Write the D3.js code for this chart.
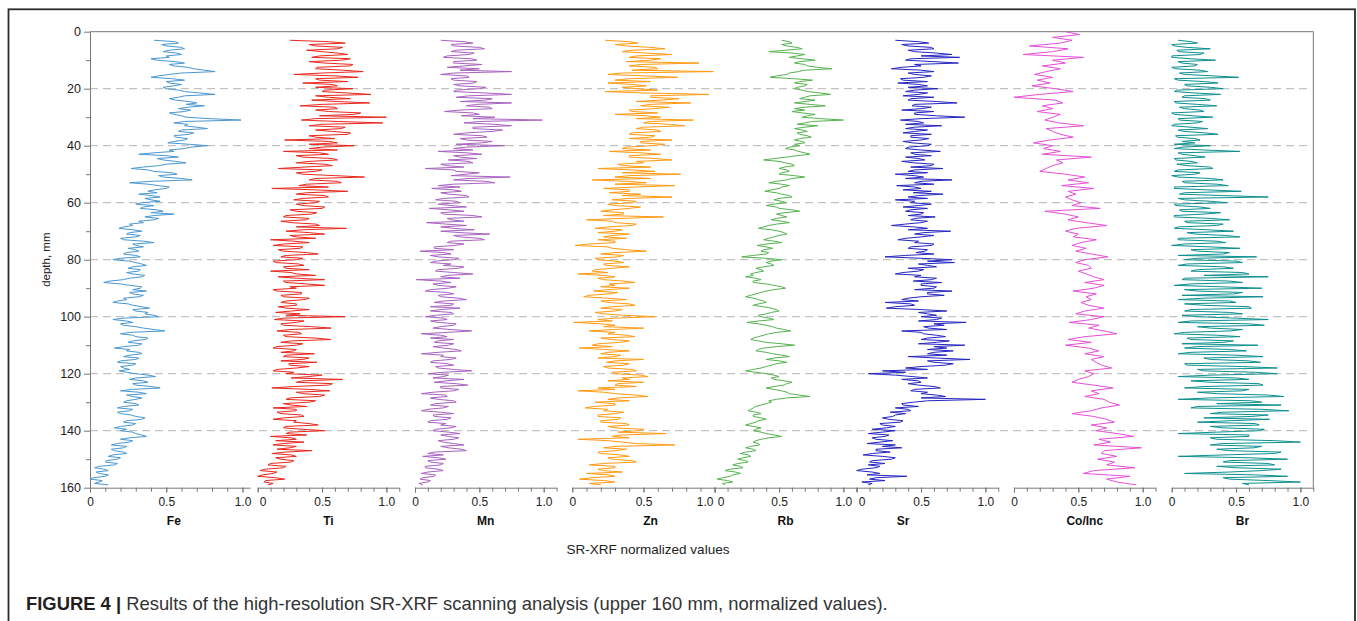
<!DOCTYPE html>
<html><head><meta charset="utf-8">
<script src="https://cdn.jsdelivr.net/npm/d3@7"></script>
<style>
body{margin:0;background:#fff;}
svg{display:block;font-family:"Liberation Sans",Arial,Helvetica,sans-serif;}
</style>
</head><body>
<svg id="chart" width="1357" height="621"></svg>
<script>
// ---------------- DATA ----------------
const elements = ["Fe","Ti","Mn","Zn","Rb","Sr","Co/Inc","Br"];
const colors = ["#4a97d1","#e8281e","#a862bf","#ff9a12","#55b24f","#2525c0","#e64fd6","#0e8f8f"];
const startDepth = [3,3,3,3,3,3,0,3];        // first sample depth (mm)
const depthStep  = [0.5,0.5,0.5,0.5,0.5,0.5,1,0.5]; // sample spacing (mm)
const depthTicks = [0,20,40,60,80,100,120,140,160];
const valueTicks = [0,0.5,1.0];

const fe = [0.42,0.56,0.58,0.47,0.50,0.60,0.62,0.52,0.48,0.57,0.60,0.50,0.52,0.40,0.44,0.56,0.62,0.52,0.55,0.64,0.68,0.75,0.82,0.60,0.52,0.45,0.40,0.54,0.62,0.50,0.52,0.60,0.55,0.48,0.50,0.58,0.62,0.72,0.82,0.62,0.58,0.52,0.56,0.65,0.70,0.63,0.75,0.64,0.58,0.66,0.62,0.52,0.55,0.60,0.63,0.78,0.99,0.62,0.55,0.64,0.62,0.70,0.77,0.60,0.58,0.68,0.65,0.55,0.56,0.64,0.62,0.55,0.51,0.65,0.77,0.66,0.62,0.52,0.55,0.42,0.32,0.50,0.58,0.44,0.48,0.56,0.63,0.50,0.45,0.35,0.27,0.38,0.42,0.54,0.57,0.45,0.48,0.60,0.67,0.40,0.26,0.38,0.45,0.52,0.50,0.42,0.38,0.44,0.32,0.40,0.46,0.36,0.40,0.46,0.34,0.30,0.42,0.35,0.33,0.44,0.48,0.40,0.55,0.42,0.36,0.45,0.42,0.32,0.35,0.26,0.28,0.22,0.19,0.28,0.34,0.26,0.24,0.33,0.30,0.20,0.22,0.35,0.42,0.28,0.30,0.35,0.25,0.30,0.32,0.24,0.22,0.30,0.33,0.20,0.15,0.26,0.30,0.34,0.37,0.28,0.25,0.33,0.32,0.24,0.28,0.36,0.34,0.26,0.22,0.13,0.09,0.20,0.26,0.34,0.33,0.28,0.37,0.26,0.28,0.35,0.32,0.22,0.24,0.18,0.15,0.25,0.28,0.34,0.39,0.28,0.30,0.38,0.36,0.42,0.45,0.22,0.15,0.24,0.28,0.20,0.22,0.30,0.35,0.42,0.49,0.26,0.20,0.28,0.30,0.38,0.36,0.28,0.25,0.34,0.32,0.22,0.16,0.26,0.24,0.32,0.34,0.26,0.22,0.32,0.30,0.20,0.18,0.30,0.28,0.20,0.22,0.26,0.19,0.24,0.30,0.38,0.43,0.30,0.26,0.35,0.38,0.28,0.30,0.40,0.46,0.28,0.20,0.32,0.37,0.24,0.28,0.34,0.30,0.24,0.22,0.30,0.32,0.22,0.18,0.28,0.26,0.18,0.20,0.27,0.30,0.36,0.34,0.24,0.22,0.30,0.28,0.20,0.16,0.24,0.20,0.28,0.30,0.34,0.37,0.26,0.20,0.28,0.26,0.18,0.14,0.24,0.22,0.14,0.16,0.22,0.24,0.15,0.12,0.20,0.18,0.11,0.10,0.18,0.16,0.06,0.03,0.09,0.12,0.04,0.06,0.12,0.10,0.02,0.00,0.08,0.06,0.03,0.12];

const ti = [0.25,0.55,0.68,0.40,0.45,0.66,0.62,0.38,0.50,0.62,0.70,0.48,0.42,0.72,0.65,0.40,0.52,0.74,0.72,0.46,0.45,0.66,0.82,0.50,0.28,0.60,0.78,0.45,0.48,0.70,0.35,0.58,0.62,0.45,0.74,0.52,0.50,0.70,0.88,0.45,0.55,0.72,0.42,0.62,0.87,0.50,0.33,0.60,0.62,0.45,0.55,0.80,0.75,0.48,1.00,0.45,0.34,0.62,0.97,0.50,0.40,0.68,0.65,0.45,0.58,0.72,0.70,0.40,0.45,0.60,0.21,0.55,0.62,0.40,0.75,0.50,0.40,0.62,0.20,0.48,0.55,0.30,0.35,0.58,0.62,0.40,0.30,0.52,0.58,0.36,0.16,0.50,0.45,0.30,0.35,0.60,0.83,0.45,0.40,0.62,0.65,0.38,0.32,0.55,0.11,0.45,0.70,0.38,0.30,0.52,0.55,0.35,0.28,0.48,0.45,0.30,0.35,0.52,0.50,0.25,0.30,0.46,0.42,0.22,0.20,0.40,0.38,0.18,0.26,0.45,0.48,0.30,0.69,0.35,0.22,0.40,0.52,0.25,0.30,0.45,0.10,0.28,0.40,0.20,0.12,0.35,0.33,0.16,0.20,0.38,0.47,0.22,0.18,0.35,0.30,0.12,0.14,0.32,0.36,0.20,0.22,0.40,0.10,0.26,0.30,0.45,0.16,0.30,0.52,0.20,0.22,0.38,0.52,0.25,0.30,0.12,0.15,0.34,0.34,0.18,0.20,0.40,0.36,0.22,0.18,0.30,0.30,0.16,0.22,0.40,0.26,0.14,0.33,0.22,0.68,0.20,0.13,0.36,0.30,0.18,0.20,0.42,0.57,0.25,0.15,0.32,0.34,0.20,0.22,0.45,0.57,0.26,0.18,0.35,0.30,0.15,0.12,0.30,0.28,0.18,0.44,0.22,0.20,0.40,0.35,0.18,0.46,0.24,0.25,0.40,0.30,0.15,0.12,0.28,0.22,0.50,0.40,0.26,0.66,0.35,0.30,0.58,0.55,0.28,0.11,0.40,0.56,0.30,0.35,0.52,0.48,0.25,0.22,0.45,0.40,0.20,0.26,0.38,0.12,0.30,0.30,0.15,0.18,0.34,0.36,0.20,0.12,0.30,0.28,0.40,0.47,0.22,0.20,0.35,0.52,0.25,0.22,0.38,0.10,0.26,0.30,0.14,0.36,0.20,0.12,0.30,0.25,0.15,0.42,0.22,0.11,0.26,0.30,0.14,0.18,0.28,0.26,0.10,0.08,0.22,0.20,0.06,0.02,0.15,0.12,0.04,0.00,0.14,0.21,0.06,0.05,0.12,0.08];

const mn = [0.20,0.38,0.45,0.28,0.30,0.50,0.54,0.32,0.28,0.46,0.42,0.25,0.22,0.44,0.48,0.30,0.30,0.52,0.38,0.25,0.50,0.35,0.75,0.30,0.20,0.40,0.42,0.28,0.30,0.48,0.46,0.30,0.35,0.55,0.50,0.32,0.30,0.55,0.75,0.42,0.32,0.60,0.55,0.35,0.75,0.48,0.40,0.58,0.60,0.35,0.23,0.45,0.50,0.36,0.62,0.45,0.99,0.50,0.38,0.62,0.75,0.45,0.45,0.68,0.60,0.40,0.30,0.52,0.56,0.35,0.40,0.60,0.52,0.32,0.70,0.40,0.30,0.45,0.18,0.40,0.52,0.30,0.35,0.48,0.26,0.42,0.45,0.20,0.25,0.38,0.08,0.30,0.32,0.50,0.40,0.28,0.74,0.42,0.30,0.55,0.62,0.30,0.18,0.35,0.13,0.30,0.36,0.20,0.26,0.40,0.42,0.22,0.16,0.32,0.35,0.18,0.28,0.40,0.11,0.26,0.38,0.20,0.22,0.45,0.52,0.25,0.28,0.38,0.09,0.24,0.40,0.20,0.30,0.46,0.20,0.35,0.58,0.30,0.35,0.50,0.54,0.28,0.25,0.38,0.31,0.15,0.15,0.30,0.04,0.22,0.28,0.12,0.18,0.34,0.30,0.16,0.12,0.28,0.22,0.38,0.34,0.18,0.16,0.30,0.45,0.25,0.20,0.35,0.01,0.20,0.28,0.14,0.18,0.32,0.26,0.12,0.08,0.25,0.30,0.18,0.20,0.34,0.40,0.22,0.15,0.30,0.28,0.12,0.35,0.20,0.12,0.28,0.30,0.16,0.08,0.22,0.25,0.12,0.18,0.32,0.30,0.20,0.14,0.28,0.44,0.25,0.05,0.20,0.25,0.12,0.30,0.18,0.15,0.30,0.26,0.14,0.22,0.32,0.36,0.18,0.05,0.22,0.20,0.32,0.28,0.14,0.12,0.25,0.30,0.16,0.18,0.30,0.44,0.22,0.10,0.26,0.22,0.14,0.38,0.24,0.15,0.32,0.41,0.20,0.20,0.34,0.30,0.14,0.05,0.24,0.25,0.12,0.18,0.30,0.32,0.16,0.12,0.26,0.22,0.10,0.05,0.20,0.30,0.14,0.15,0.28,0.25,0.12,0.10,0.24,0.20,0.32,0.28,0.16,0.14,0.26,0.35,0.20,0.26,0.34,0.30,0.18,0.22,0.30,0.38,0.20,0.26,0.36,0.40,0.15,0.10,0.22,0.06,0.18,0.24,0.10,0.12,0.22,0.20,0.08,0.08,0.18,0.22,0.10,0.05,0.16,0.15,0.06,0.04,0.12,0.10,0.03,0.06];

const zn = [0.23,0.40,0.46,0.30,0.38,0.55,0.65,0.42,0.35,0.52,0.70,0.45,0.40,0.62,0.55,0.38,0.89,0.48,0.40,0.58,0.60,0.42,0.99,0.35,0.25,0.50,0.74,0.40,0.30,0.55,0.25,0.42,0.52,0.35,0.45,0.60,0.23,0.50,0.96,0.55,0.55,0.75,0.62,0.45,0.83,0.55,0.48,0.68,0.58,0.40,0.42,0.60,0.30,0.52,0.62,0.45,0.85,0.55,0.50,0.68,0.79,0.50,0.45,0.60,0.62,0.42,0.40,0.58,0.55,0.40,0.70,0.48,0.48,0.65,0.55,0.38,0.35,0.55,0.26,0.48,0.62,0.40,0.40,0.58,0.70,0.45,0.50,0.32,0.36,0.55,0.18,0.42,0.58,0.35,0.76,0.40,0.30,0.55,0.14,0.38,0.52,0.30,0.72,0.45,0.22,0.40,0.40,0.26,0.48,0.35,0.70,0.40,0.28,0.45,0.42,0.25,0.30,0.48,0.40,0.28,0.20,0.36,0.36,0.22,0.64,0.35,0.10,0.28,0.30,0.45,0.42,0.25,0.16,0.35,0.30,0.18,0.40,0.28,0.22,0.38,0.18,0.30,0.30,0.12,0.02,0.25,0.28,0.38,0.52,0.30,0.20,0.36,0.32,0.16,0.18,0.30,0.36,0.22,0.24,0.40,0.28,0.16,0.14,0.25,0.04,0.22,0.30,0.18,0.22,0.36,0.44,0.26,0.30,0.20,0.40,0.25,0.15,0.32,0.26,0.12,0.08,0.25,0.38,0.20,0.25,0.40,0.44,0.28,0.20,0.35,0.30,0.16,0.22,0.36,0.58,0.30,0.18,0.28,0.01,0.20,0.30,0.22,0.50,0.28,0.12,0.30,0.25,0.38,0.44,0.20,0.28,0.40,0.34,0.18,0.14,0.28,0.05,0.22,0.40,0.25,0.20,0.34,0.30,0.18,0.50,0.30,0.24,0.40,0.36,0.22,0.25,0.42,0.45,0.28,0.30,0.48,0.53,0.35,0.40,0.25,0.50,0.32,0.30,0.45,0.18,0.30,0.04,0.22,0.30,0.45,0.53,0.32,0.25,0.40,0.16,0.30,0.30,0.15,0.09,0.25,0.22,0.36,0.30,0.18,0.18,0.34,0.32,0.20,0.20,0.38,0.40,0.25,0.30,0.50,0.46,0.32,0.66,0.35,0.28,0.40,0.04,0.25,0.35,0.45,0.72,0.30,0.22,0.38,0.30,0.18,0.20,0.34,0.40,0.25,0.28,0.42,0.45,0.22,0.12,0.30,0.30,0.18,0.22,0.35,0.10,0.26,0.30,0.14,0.05,0.22,0.30,0.12,0.20];

const rb = [0.52,0.58,0.60,0.52,0.56,0.64,0.68,0.55,0.42,0.60,0.70,0.64,0.58,0.68,0.78,0.66,0.62,0.70,0.72,0.80,0.91,0.70,0.65,0.58,0.56,0.48,0.43,0.62,0.76,0.66,0.62,0.72,0.70,0.64,0.62,0.68,0.72,0.82,0.90,0.74,0.70,0.66,0.78,0.70,0.62,0.74,0.86,0.70,0.62,0.70,0.60,0.68,0.78,0.72,0.68,0.82,1.00,0.76,0.70,0.64,0.80,0.70,0.62,0.68,0.72,0.64,0.66,0.72,0.75,0.66,0.62,0.68,0.70,0.62,0.66,0.58,0.55,0.62,0.65,0.70,0.74,0.64,0.56,0.46,0.38,0.50,0.55,0.60,0.62,0.54,0.50,0.56,0.58,0.52,0.50,0.62,0.70,0.60,0.56,0.48,0.42,0.52,0.58,0.52,0.50,0.44,0.39,0.48,0.52,0.58,0.60,0.50,0.46,0.52,0.56,0.46,0.40,0.48,0.50,0.60,0.66,0.54,0.48,0.52,0.56,0.48,0.44,0.52,0.58,0.48,0.42,0.38,0.34,0.44,0.50,0.54,0.56,0.50,0.46,0.42,0.38,0.46,0.52,0.40,0.33,0.40,0.45,0.38,0.36,0.42,0.40,0.30,0.21,0.40,0.52,0.44,0.40,0.44,0.46,0.38,0.32,0.36,0.38,0.32,0.28,0.30,0.24,0.32,0.36,0.30,0.30,0.40,0.46,0.52,0.55,0.46,0.40,0.36,0.32,0.28,0.24,0.30,0.34,0.38,0.40,0.34,0.30,0.38,0.44,0.48,0.50,0.44,0.40,0.34,0.36,0.42,0.46,0.34,0.25,0.34,0.40,0.45,0.48,0.54,0.59,0.48,0.42,0.38,0.34,0.30,0.28,0.34,0.40,0.52,0.62,0.48,0.38,0.34,0.32,0.40,0.45,0.52,0.58,0.46,0.40,0.50,0.56,0.48,0.44,0.40,0.36,0.30,0.24,0.32,0.40,0.46,0.50,0.44,0.46,0.54,0.60,0.56,0.54,0.46,0.40,0.46,0.52,0.56,0.58,0.66,0.74,0.56,0.48,0.42,0.44,0.40,0.36,0.32,0.30,0.28,0.26,0.32,0.36,0.30,0.30,0.36,0.40,0.34,0.32,0.28,0.24,0.30,0.36,0.32,0.30,0.36,0.40,0.46,0.52,0.42,0.36,0.32,0.30,0.34,0.35,0.28,0.24,0.30,0.32,0.24,0.20,0.26,0.28,0.22,0.18,0.24,0.26,0.18,0.14,0.20,0.22,0.12,0.08,0.16,0.20,0.14,0.12,0.06,0.02,0.10,0.14,0.06,0.08];

const sr = [0.30,0.48,0.56,0.35,0.40,0.58,0.60,0.40,0.45,0.62,0.74,0.50,0.80,0.42,0.38,0.60,0.79,0.45,0.50,0.35,0.27,0.50,0.60,0.40,0.45,0.58,0.52,0.34,0.36,0.55,0.32,0.48,0.55,0.40,0.63,0.45,0.38,0.55,0.48,0.36,0.60,0.42,0.40,0.62,0.78,0.45,0.43,0.58,0.50,0.35,0.60,0.45,0.45,0.62,0.84,0.50,0.34,0.48,0.52,0.38,0.66,0.45,0.38,0.55,0.45,0.36,0.58,0.42,0.42,0.56,0.50,0.36,0.43,0.58,0.55,0.40,0.38,0.50,0.65,0.42,0.45,0.58,0.38,0.48,0.53,0.35,0.44,0.60,0.58,0.42,0.67,0.45,0.40,0.55,0.30,0.45,0.52,0.38,0.74,0.50,0.45,0.60,0.31,0.45,0.50,0.36,0.58,0.44,0.67,0.48,0.40,0.55,0.30,0.45,0.42,0.58,0.48,0.36,0.55,0.42,0.38,0.52,0.50,0.40,0.61,0.45,0.42,0.55,0.50,0.38,0.27,0.45,0.55,0.40,0.73,0.52,0.45,0.60,0.50,0.38,0.32,0.48,0.45,0.60,0.58,0.42,0.40,0.55,0.53,0.46,0.60,0.38,0.22,0.50,0.74,0.55,0.76,0.48,0.55,0.62,0.40,0.52,0.48,0.36,0.30,0.50,0.45,0.62,0.58,0.44,0.66,0.50,0.50,0.62,0.60,0.45,0.74,0.55,0.55,0.68,0.50,0.40,0.35,0.48,0.22,0.42,0.45,0.30,0.23,0.50,0.70,0.48,0.55,0.62,0.50,0.66,0.62,0.48,0.85,0.60,0.68,0.52,0.56,0.70,0.35,0.50,0.52,0.62,0.69,0.55,0.50,0.72,0.62,0.48,0.84,0.60,0.70,0.55,0.75,0.60,0.55,0.70,0.40,0.62,0.88,0.55,0.60,0.75,0.69,0.50,0.38,0.55,0.20,0.38,0.09,0.30,0.43,0.55,0.35,0.48,0.50,0.40,0.48,0.60,0.65,0.45,0.42,0.55,0.50,0.62,0.69,0.50,1.00,0.55,0.44,0.35,0.36,0.48,0.30,0.40,0.42,0.26,0.38,0.30,0.28,0.20,0.25,0.36,0.34,0.18,0.20,0.30,0.23,0.12,0.30,0.20,0.09,0.25,0.22,0.12,0.15,0.28,0.18,0.08,0.30,0.20,0.35,0.15,0.15,0.26,0.12,0.05,0.20,0.30,0.27,0.12,0.10,0.22,0.09,0.18,0.15,0.04,0.00,0.12,0.18,0.08,0.39,0.15,0.10,0.22,0.04,0.12,0.09];

const coinc = [0.40,0.51,0.30,0.45,0.36,0.12,0.42,0.30,0.07,0.54,0.30,0.40,0.22,0.36,0.25,0.16,0.30,0.18,0.28,0.14,0.32,0.46,0.20,0.00,0.32,0.38,0.22,0.30,0.18,0.36,0.30,0.24,0.35,0.54,0.25,0.30,0.36,0.46,0.28,0.15,0.30,0.23,0.36,0.22,0.60,0.33,0.38,0.30,0.25,0.20,0.40,0.55,0.42,0.58,0.37,0.62,0.42,0.48,0.40,0.45,0.52,0.45,0.67,0.24,0.40,0.50,0.42,0.56,0.72,0.48,0.40,0.50,0.46,0.64,0.52,0.45,0.56,0.48,0.60,0.73,0.55,0.48,0.58,0.60,0.50,0.56,0.62,0.70,0.55,0.70,0.62,0.46,0.64,0.56,0.60,0.52,0.58,0.70,0.55,0.48,0.70,0.60,0.43,0.66,0.58,0.70,0.80,0.55,0.42,0.60,0.40,0.58,0.66,0.55,0.70,0.60,0.64,0.68,0.76,0.55,0.62,0.58,0.50,0.45,0.62,0.77,0.60,0.66,0.55,0.70,0.74,0.82,0.68,0.60,0.45,0.62,0.72,0.78,0.60,0.72,0.64,0.80,0.93,0.66,0.75,0.62,0.99,0.70,0.68,0.80,0.65,0.78,0.72,0.94,0.62,0.54,0.90,0.72,0.80,0.95];

const br = [0.05,0.15,0.20,0.00,0.02,0.12,0.30,0.04,0.05,0.25,0.22,0.00,0.00,0.15,0.34,0.05,0.08,0.20,0.18,0.00,0.03,0.22,0.28,0.06,0.10,0.32,0.52,0.02,0.05,0.25,0.36,0.10,0.12,0.30,0.40,0.04,0.02,0.18,0.38,0.10,0.08,0.26,0.30,0.02,0.03,0.20,0.35,0.06,0.10,0.22,0.25,0.00,0.02,0.16,0.32,0.05,0.06,0.24,0.20,0.02,0.00,0.15,0.28,0.05,0.10,0.26,0.36,0.03,0.04,0.18,0.22,0.08,0.18,0.02,0.30,0.08,0.02,0.25,0.53,0.05,0.08,0.18,0.26,0.02,0.03,0.15,0.20,0.04,0.12,0.30,0.32,0.05,0.02,0.22,0.18,0.00,0.05,0.30,0.40,0.08,0.10,0.35,0.44,0.02,0.02,0.28,0.54,0.10,0.06,0.40,0.75,0.05,0.10,0.30,0.43,0.02,0.03,0.22,0.30,0.06,0.08,0.38,0.25,0.02,0.02,0.30,0.45,0.10,0.12,0.40,0.35,0.05,0.02,0.28,0.48,0.12,0.18,0.42,0.53,0.05,0.05,0.35,0.42,0.10,0.00,0.30,0.53,0.15,0.20,0.45,0.40,0.05,0.66,0.20,0.10,0.50,0.55,0.12,0.05,0.40,0.48,0.20,0.15,0.55,0.60,0.25,0.75,0.10,0.08,0.45,0.55,0.15,0.02,0.38,0.70,0.10,0.20,0.55,0.48,0.08,0.71,0.25,0.05,0.45,0.50,0.10,0.25,0.60,0.62,0.15,0.10,0.45,0.55,0.08,0.20,0.50,0.75,0.15,0.05,0.60,0.72,0.20,0.30,0.55,0.45,0.10,0.02,0.35,0.53,0.12,0.15,0.48,0.40,0.08,0.67,0.20,0.10,0.45,0.58,0.15,0.05,0.50,0.71,0.25,0.30,0.60,0.69,0.10,0.12,0.55,0.82,0.20,0.25,0.65,0.82,0.30,0.05,0.50,0.60,0.15,0.30,0.68,0.71,0.25,0.10,0.60,0.55,0.20,0.35,0.75,0.87,0.30,0.05,0.62,0.70,0.35,0.85,0.20,0.15,0.70,0.91,0.40,0.30,0.75,0.62,0.25,0.76,0.45,0.20,0.65,0.68,0.30,0.40,0.72,0.68,0.35,0.05,0.60,0.60,0.30,0.35,0.80,1.00,0.40,0.30,0.70,0.64,0.35,0.45,0.85,0.80,0.40,0.05,0.60,0.90,0.45,0.40,0.75,0.80,0.35,0.50,0.85,0.70,0.45,0.10,0.65,0.90,0.40,0.45,0.75,1.00,0.55,0.60];

const series = [fe, ti, mn, zn, rb, sr, coinc, br];

// ---------------- LAYOUT ----------------
const plotTop = 31.7, plotBottom = 487.7, yAxisX = 90, rightX = 1313.3;
const panelLeft = [90, 257.7, 415, 572.3, 714.7, 856.7, 1014, 1171.7];
const panelMax  = [1.05, 1.1, 1.1, 1.0, 1.1, 1.1, 1.1, 1.1];
const panelUnit = [152.5, 128.7, 128.7, 142.4, 128.7, 128.7, 128.7, 128.7]; // px per 1.0
const labelShift = [[0,0,0],[5,0,0],[0,0,0],[0,0,-10],[6,0,0],[5,0,0],[0,0,0],[0,0,0]];
const nameAt = [0.55,0.55,0.55,0.55,0.55,0.36,0.55,0.55];

const svg = d3.select("#chart");
const y = d3.scaleLinear().domain([0,160]).range([plotTop,plotBottom]);

// outer frame
svg.append("rect").attr("x",8.5).attr("y",9.3).attr("width",1346.5).attr("height",640)
  .attr("fill","none").attr("stroke","#2b2b2b").attr("stroke-width",1.8);

// dashed gridlines
svg.append("g").selectAll("line").data(depthTicks.filter(d=>d>0 && d<160)).join("line")
  .attr("x1",yAxisX).attr("x2",rightX-4).attr("y1",d=>y(d)).attr("y2",d=>y(d))
  .attr("stroke","#b4b4b4").attr("stroke-width",1).attr("stroke-dasharray","8,5");

// top & right frame lines
svg.append("line").attr("x1",yAxisX).attr("x2",rightX).attr("y1",plotTop).attr("y2",plotTop)
  .attr("stroke","#777").attr("stroke-width",1);
svg.append("line").attr("x1",rightX).attr("x2",rightX).attr("y1",plotTop).attr("y2",plotBottom)
  .attr("stroke","#777").attr("stroke-width",1);

// y axis
const yMinor = svg.append("g").attr("transform",`translate(${yAxisX},0)`)
  .call(d3.axisLeft(y).tickValues(d3.range(10,160,20)).tickSize(4).tickFormat(""));
yMinor.select(".domain").remove();
yMinor.selectAll(".tick line").attr("stroke","#777");
const yMajor = svg.append("g").attr("transform",`translate(${yAxisX},0)`)
  .call(d3.axisLeft(y).tickValues(depthTicks).tickSize(6).tickSizeOuter(0).tickPadding(3).tickFormat(d3.format("d")));
yMajor.select(".domain").attr("stroke","#777");
yMajor.selectAll(".tick line").attr("stroke","#777");
yMajor.selectAll("text").attr("font-size","12.5px").attr("fill","#222")
  .attr("font-family","'Liberation Sans',Arial,sans-serif");

svg.append("text").attr("transform",`translate(50,${(plotTop+plotBottom)/2}) rotate(-90)`)
  .attr("text-anchor","middle").attr("font-size","11.5px").attr("fill","#222").text("depth, mm");

// panels
elements.forEach((name,k)=>{
  const x = d3.scaleLinear().domain([0,panelMax[k]]).range([panelLeft[k], panelLeft[k]+panelUnit[k]*panelMax[k]]);
  const g = svg.append("g");
  const minorVals = d3.range(0, Math.min(panelMax[k],1.1)+1e-6, 0.1).map(v=>+v.toFixed(2));
  const axMinor = g.append("g").attr("transform",`translate(0,${plotBottom})`)
    .call(d3.axisBottom(x).tickValues(minorVals).tickSize(4).tickSizeOuter(0).tickFormat(""));
  axMinor.select(".domain").attr("stroke","#777");
  axMinor.selectAll(".tick line").attr("stroke","#777");
  const axMajor = g.append("g").attr("transform",`translate(0,${plotBottom})`)
    .call(d3.axisBottom(x).tickValues(valueTicks).tickSize(5).tickPadding(5)
      .tickFormat(d=>d===0?"0":d3.format(".1f")(d)));
  axMajor.select(".domain").remove();
  axMajor.selectAll(".tick line").attr("stroke","#777");
  axMajor.selectAll(".tick text").attr("font-size","12px").attr("fill","#222")
    .attr("font-family","'Liberation Sans',Arial,sans-serif")
    .attr("dx",(d,i)=>labelShift[k][i]);
  svg.append("text").attr("x",x(nameAt[k])).attr("y",524.5).attr("text-anchor","middle")
    .attr("font-size","12px").attr("font-weight","bold").attr("fill","#111").text(name);
  const line = d3.line().x(v=>x(v)).y((v,i)=>y(startDepth[k]+i*depthStep[k]));
  svg.append("path").datum(series[k]).attr("d",line)
    .attr("fill","none").attr("stroke",colors[k]).attr("stroke-width",1)
    .attr("stroke-linejoin","round");
});

svg.append("text").attr("x",648).attr("y",553.5).attr("text-anchor","middle")
  .attr("font-size","13.5px").attr("fill","#222").text("SR-XRF normalized values");

const cap = svg.append("text").attr("x",26).attr("y",610).attr("font-size","18.4px").attr("fill","#333");
cap.append("tspan").attr("font-weight","bold").attr("fill","#231f20").text("FIGURE 4 | ");
cap.append("tspan").text("Results of the high-resolution SR-XRF scanning analysis (upper 160 mm, normalized values).");
</script>
</body></html>
